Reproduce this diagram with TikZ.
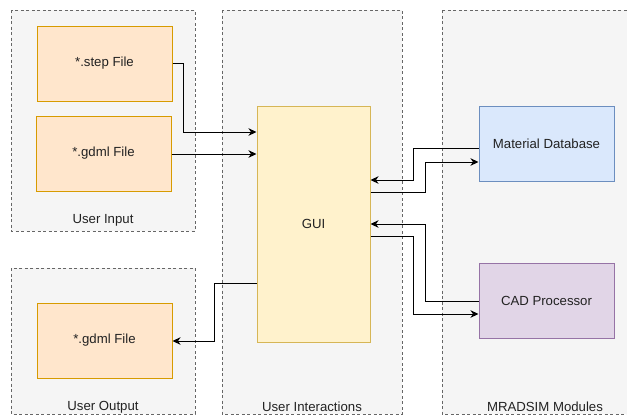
\documentclass[tikz,border=0pt]{standalone}
\usepackage{fontspec}
\setmainfont{Liberation Sans}
\usetikzlibrary{arrows.meta,calc}
\definecolor{contfill}{HTML}{F5F5F5}
\definecolor{contdraw}{HTML}{666666}
\definecolor{orfill}{HTML}{FFE6CC}
\definecolor{ordraw}{HTML}{D79B00}
\definecolor{yefill}{HTML}{FFF2CC}
\definecolor{yedraw}{HTML}{D6B656}
\definecolor{blfill}{HTML}{DAE8FC}
\definecolor{bldraw}{HTML}{6C8EBF}
\definecolor{pufill}{HTML}{E1D5E7}
\definecolor{pudraw}{HTML}{9673A6}
\definecolor{txt}{HTML}{222222}
\tikzset{
  container/.style={draw=contdraw, fill=contfill, dash pattern=on 3pt off 2.5pt, line width=0.8pt},
  contlabel/.style={font=\fontsize{13.2}{15}\selectfont, text=txt, inner sep=0pt},
  box/.style={rectangle, minimum width=135pt, minimum height=75pt, line width=1pt, font=\fontsize{13.2}{15}\selectfont, text=txt, inner sep=0pt},
  orbox/.style={box, draw=ordraw, fill=orfill},
  arr/.style={draw=black, line width=0.9pt, -{Stealth[length=8pt,width=7.5pt,inset=2.5pt]}},
}
\begin{document}
\begin{tikzpicture}[x=1pt,y=-1pt]
\useasboundingbox (0,0) rectangle (627,416);
\clip (0,0) rectangle (627,416);
\fill[white] (0,0) rectangle (627,416);
% containers
\draw[container] (11,10) rectangle (195,231);
\draw[container] (11,268) rectangle (195,414);
\draw[container] (222,10) rectangle (402,414);
\draw[container] (442,10) rectangle (650,414);
\node[contlabel] (lin) at (103,220) {User Input};
\node[contlabel] (lout) at (103,407) {User Output};
\node[contlabel] (lint) at (312,407) {User Interactions};
\node[contlabel] (lmod) at (545,407) {MRADSIM Modules};
% boxes
\node[orbox] (step) at (104.5,63.5) {*.step File};
\node[orbox] (gdmlin) at (103.5,153.5) {*.gdml File};
\node[orbox] (gdmlout) at (104.5,340.5) {*.gdml File};
\node[box, draw=yedraw, fill=yefill, minimum width=113pt, minimum height=236pt] (gui) at (313.5,224) {GUI};
\node[box, draw=bldraw, fill=blfill] (mdb) at (546.5,143.5) {Material Database};
\node[box, draw=pudraw, fill=pufill] (cad) at (546.5,300.5) {CAD Processor};
% connectors
\draw[arr] (step.east) -| (183,132) -- (gui.west |- 0,132);
\draw[arr] (gdmlin.east |- 0,154) -- (gui.west |- 0,154);
\draw[arr] (mdb.west |- 0,148) -| (413,180) -- (gui.east |- 0,180);
\draw[arr] (gui.east |- 0,192) -| (425,162) -- (mdb.west |- 0,162);
\draw[arr] (cad.west |- 0,301) -| (425,224) -- (gui.east |- 0,224);
\draw[arr] (gui.east |- 0,236) -| (413,314) -- (cad.west |- 0,314);
\draw[arr] (gui.west |- 0,283) -| (214,341) -- (gdmlout.east |- 0,341);
\end{tikzpicture}
\end{document}
